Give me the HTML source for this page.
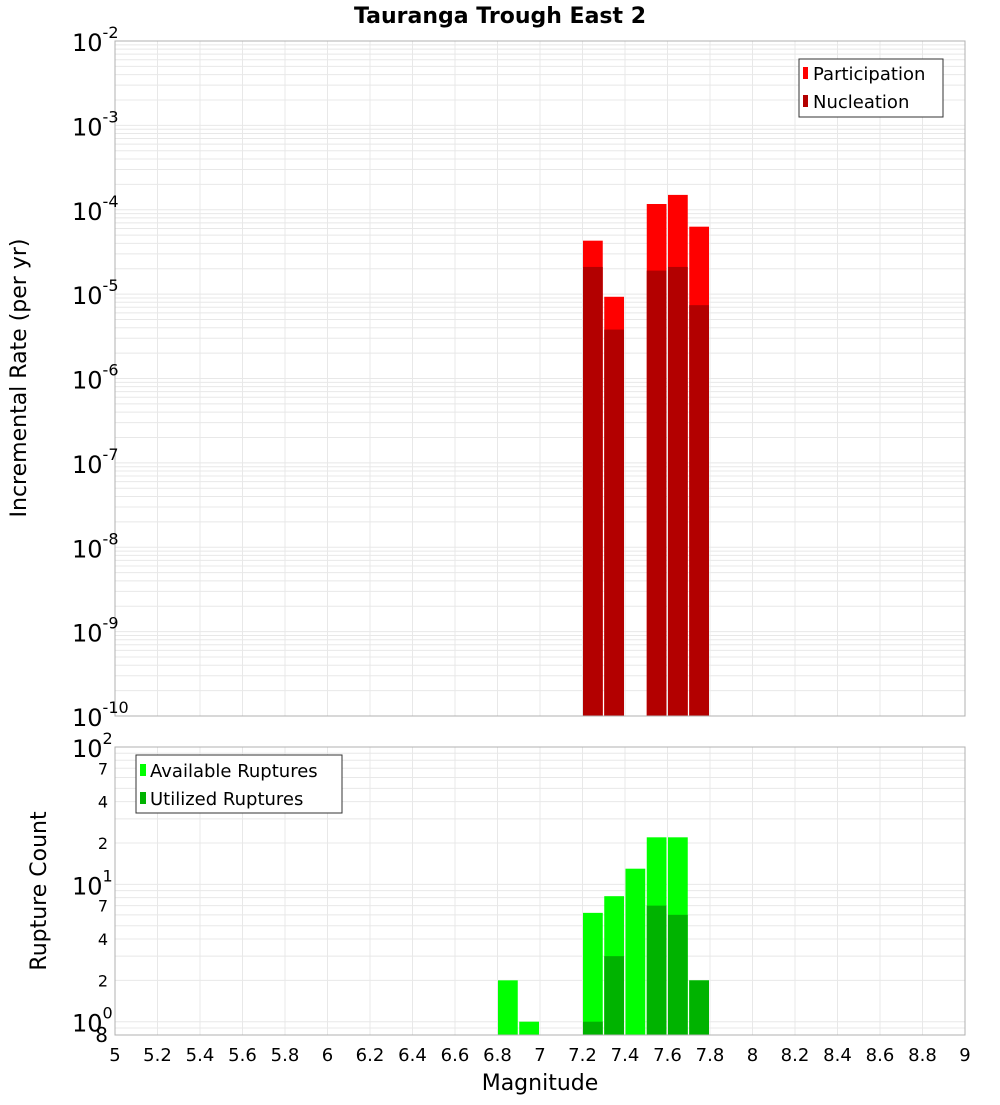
<!DOCTYPE html>
<html><head><meta charset="utf-8"><style>
body{margin:0;background:#fff;}
svg{font-family:"DejaVu Sans","Liberation Sans",sans-serif;}
</style></head><body>
<svg id="c" width="1000" height="1100" xmlns="http://www.w3.org/2000/svg"></svg>
<script>
const mags = [6.85, 6.95, 7.25, 7.35, 7.45, 7.55, 7.65, 7.75];
const participation = [0, 0, 4.3e-5, 9.3e-6, 0, 1.17e-4, 1.5e-4, 6.3e-5];
const nucleation = [0, 0, 2.1e-5, 3.8e-6, 0, 1.9e-5, 2.1e-5, 7.4e-6];
const available = [2, 1, 6.2, 8.2, 13, 22, 22, 2];
const utilized = [0, 0, 1, 3, 0, 7, 6, 2];
const xTicks = [5,5.2,5.4,5.6,5.8,6,6.2,6.4,6.6,6.8,7,7.2,7.4,7.6,7.8,8,8.2,8.4,8.6,8.8,9];
const topExps = [-10,-9,-8,-7,-6,-5,-4,-3,-2];
const binWidth = 0.1;

const svg = document.getElementById('c');
const NS = 'http://www.w3.org/2000/svg';
function mk(tag, attrs, parent, text){
  const e = document.createElementNS(NS, tag);
  for (const k in attrs) e.setAttribute(k, attrs[k]);
  if (text !== undefined) e.textContent = text;
  (parent || svg).appendChild(e);
  return e;
}
const X0 = 115, X1 = 965;
const xs = m => X0 + (m - 5) / 4 * (X1 - X0);
const T0 = 41, T1 = 716;
const ysTop = v => T0 + (-2 - Math.log10(v)) / 8 * (T1 - T0);
const B0 = 747, B1 = 1035, bMin = 0.8, bMax = 100;
const ysBot = v => B1 - (Math.log10(v) - Math.log10(bMin)) / (Math.log10(bMax) - Math.log10(bMin)) * (B1 - B0);

// title
let t = mk('text', {x: 500, y: 23, 'text-anchor': 'middle', 'font-size': 22, 'font-weight': 'bold'}, svg, 'Tauranga Trough East 2');
 

function grid(g, y0, y1, yfn, vals){
  for (const m of xTicks) mk('line', {x1: xs(m), x2: xs(m), y1: y0, y2: y1, stroke: '#e8e8e8', 'stroke-width': 1}, g);
  for (const v of vals){ const y = yfn(v); if (y >= y0 - 0.5 && y <= y1 + 0.5) mk('line', {x1: X0, x2: X1, y1: y, y2: y, stroke: '#e8e8e8', 'stroke-width': 1}, g); }
}
// top plot
const gTop = mk('g', {});
 
const tv = []; for (let e = -10; e < -2; e++) for (let k = 1; k < 10; k++) tv.push(k * Math.pow(10, e));
grid(gTop, T0, T1, ysTop, tv);
const bw = xs(5 + binWidth) - xs(5) - 1.5;
mags.forEach((m, i) => {
  if (participation[i] > 0){
    const r = mk('rect', {x: xs(m - binWidth/2) + 0.5, y: ysTop(participation[i]), width: bw, height: T1 - ysTop(participation[i]), fill: '#ff0000'}, gTop);
     
  }
  if (nucleation[i] > 0){
    const r = mk('rect', {x: xs(m - binWidth/2) + 0.5, y: ysTop(nucleation[i]), width: bw, height: T1 - ysTop(nucleation[i]), fill: '#b30000'}, gTop);
     
  }
});
mk('rect', {x: X0, y: T0, width: X1 - X0, height: T1 - T0, fill: 'none', stroke: '#b0b0b0'}, gTop);
topExps.forEach(e => {
  const y = ysTop(Math.pow(10, e));
  const tx = mk('text', {x: 72, y: y + 10, 'font-size': 24}, gTop);
  mk('tspan', {}, tx, '10');
  mk('tspan', {dy: -13, 'font-size': 16}, tx, String(e));
   
});
t = mk('text', {x: 26, y: 378, 'text-anchor': 'middle', 'font-size': 22, transform: 'rotate(-90 26 378)'}, svg, 'Incremental Rate (per yr)');
 
// top legend
const lg = mk('g', {});
 
mk('rect', {x: 799, y: 59, width: 144, height: 58, fill: '#fff', stroke: '#333'}, lg);
mk('rect', {x: 803, y: 67, width: 5, height: 12, fill: '#ff0000'}, lg);
mk('text', {x: 813, y: 80, 'font-size': 18}, lg, 'Participation');
mk('rect', {x: 803, y: 95, width: 5, height: 12, fill: '#b30000'}, lg);
mk('text', {x: 813, y: 108, 'font-size': 18}, lg, 'Nucleation');

// bottom plot
const gBot = mk('g', {});
 
const bv = []; for (let e = -1; e < 2; e++) for (let k = 1; k < 10; k++) bv.push(k * Math.pow(10, e));
grid(gBot, B0, B1, ysBot, bv);
mags.forEach((m, i) => {
  if (available[i] > 0){
    const r = mk('rect', {x: xs(m - binWidth/2) + 0.5, y: ysBot(available[i]), width: bw, height: B1 - ysBot(available[i]), fill: '#00ff00'}, gBot);
     
  }
  if (utilized[i] > 0){
    const r = mk('rect', {x: xs(m - binWidth/2) + 0.5, y: ysBot(utilized[i]), width: bw, height: B1 - ysBot(utilized[i]), fill: '#00b300'}, gBot);
     
  }
});
mk('rect', {x: X0, y: B0, width: X1 - X0, height: B1 - B0, fill: 'none', stroke: '#b0b0b0'}, gBot);
[[100,'2'],[10,'1'],[1,'0']].forEach(([v, e]) => {
  const y = ysBot(v);
  const tx = mk('text', {x: 72, y: y + 10, 'font-size': 24}, gBot);
  mk('tspan', {}, tx, '10');
  mk('tspan', {dy: -13, 'font-size': 16}, tx, e);
   
});
[[70,'7'],[40,'4'],[20,'2'],[7,'7'],[4,'4'],[2,'2']].forEach(([v, s]) => {
  const tx = mk('text', {x: 108, y: ysBot(v) + 6, 'text-anchor': 'end', 'font-size': 16}, gBot, s);
   
});
t = mk('text', {x: 108, y: 1042, 'text-anchor': 'end', 'font-size': 20}, gBot, '8');
 
t = mk('text', {x: 46, y: 891, 'text-anchor': 'middle', 'font-size': 22, transform: 'rotate(-90 46 891)'}, svg, 'Rupture Count');
 
xTicks.forEach(m => {
  const tx = mk('text', {x: xs(m), y: 1061, 'text-anchor': 'middle', 'font-size': 18}, svg, String(m));
   
});
t = mk('text', {x: 540, y: 1090, 'text-anchor': 'middle', 'font-size': 22}, svg, 'Magnitude');
 
// bottom legend
const lg2 = mk('g', {});
 
mk('rect', {x: 136, y: 755, width: 206, height: 58, fill: '#fff', stroke: '#333'}, lg2);
mk('rect', {x: 140, y: 764, width: 6, height: 12, fill: '#00ff00'}, lg2);
mk('text', {x: 150, y: 777, 'font-size': 18}, lg2, 'Available Ruptures');
mk('rect', {x: 140, y: 792, width: 6, height: 12, fill: '#00b300'}, lg2);
mk('text', {x: 150, y: 805, 'font-size': 18}, lg2, 'Utilized Ruptures');
</script>
</body></html>
